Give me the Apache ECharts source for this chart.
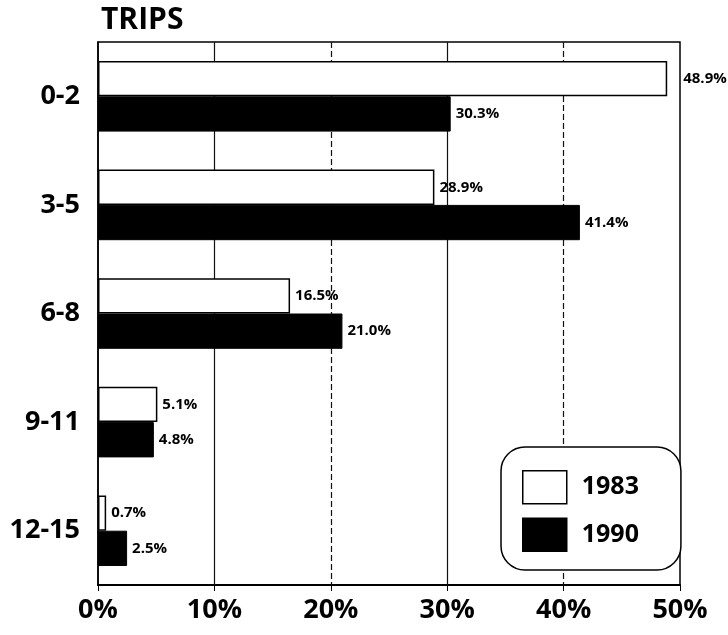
<!DOCTYPE html>
<html>
<head>
<meta charset="utf-8">
<script src="https://cdn.jsdelivr.net/npm/echarts@6/dist/echarts.min.js"></script>
<style>html,body{margin:0;padding:0;background:#fff;}#c{width:728px;height:635px;}</style>
</head>
<body>
<div id="c"></div>
<script>
var categories = ['0-2', '3-5', '6-8', '9-11', '12-15'];
var values1983 = [48.9, 28.9, 16.5, 5.1, 0.7];
var values1990 = [30.3, 41.4, 21.0, 4.8, 2.5];
var seriesNames = ['1983', '1990'];
var axisTitle = 'TRIPS';
var solidGridValues = [10, 30];
var dashedGridValues = [20, 40];

var FONT = '"Open Sans", "DejaVu Sans", sans-serif';
var chart = echarts.init(document.getElementById('c'), null, {renderer: 'canvas'});
function labelCfg(extra) {
  var o = {
    show: true, position: 'right', distance: 5,
    formatter: function (p) { return p.value.toFixed(1) + '%'; },
    color: '#000', fontFamily: FONT, fontWeight: 'bold', fontSize: 15
  };
  for (var k in extra) o[k] = extra[k];
  return o;
}
var gridLines = solidGridValues.map(function (v) {
  return {xAxis: v, lineStyle: {type: 'solid', color: '#111', width: 1.2}};
}).concat(dashedGridValues.map(function (v) {
  return {xAxis: v, lineStyle: {type: [6, 3], color: '#111', width: 1.2}};
}));
var data1983 = values1983.map(function (v, i) {
  return i === 0 ? {value: v, label: labelCfg({distance: 16, backgroundColor: '#fff'})} : v;
});
chart.setOption({
  backgroundColor: '#fff',
  animation: false,
  title: {
    text: axisTitle, left: 96, top: 0,
    textStyle: {fontFamily: FONT, fontWeight: 'bold', fontSize: 30, color: '#000'}
  },
  legend: {
    orient: 'vertical', left: 501, top: 447,
    data: seriesNames,
    icon: 'rect',
    itemWidth: 44, itemHeight: 33, itemGap: 13,
    padding: [23, 42, 18, 21],
    borderColor: '#000', borderWidth: 1.5, borderRadius: 24,
    backgroundColor: '#fff',
    itemStyle: {borderColor: '#000', borderWidth: 1.5},
    textStyle: {fontFamily: FONT, fontWeight: 'bold', fontSize: 25, color: '#000', padding: [0, 0, 0, 10]}
  },
  grid: {left: 98, right: 48, top: 42, bottom: 50, show: true, borderColor: '#000', borderWidth: 1.5},
  xAxis: {
    type: 'value', min: 0, max: 50, interval: 10,
    axisLine: {show: true, lineStyle: {color: '#000', width: 2}},
    axisTick: {show: true, length: 6, lineStyle: {color: '#000'}},
    axisLabel: {formatter: '{value}%', fontFamily: FONT, fontWeight: 'bold', fontSize: 27, color: '#000', margin: 12},
    splitLine: {show: false}
  },
  yAxis: {
    type: 'category', inverse: true, data: categories,
    axisLine: {show: true, lineStyle: {color: '#000', width: 1.5}},
    axisTick: {show: false},
    axisLabel: {fontFamily: FONT, fontWeight: 'bold', fontSize: 27, color: '#000', margin: 18}
  },
  series: [
    {
      name: seriesNames[0], type: 'bar', data: data1983, z: 3,
      barGap: '0%', barCategoryGap: '35%',
      itemStyle: {color: '#fff', borderColor: '#000', borderWidth: 1.5},
      label: labelCfg({}),
      markLine: {silent: true, symbol: 'none', label: {show: false}, z: 1, data: gridLines}
    },
    {
      name: seriesNames[1], type: 'bar', data: values1990, z: 3,
      itemStyle: {color: '#000', borderColor: '#000', borderWidth: 1},
      label: labelCfg({})
    }
  ]
});
</script>
</body>
</html>
